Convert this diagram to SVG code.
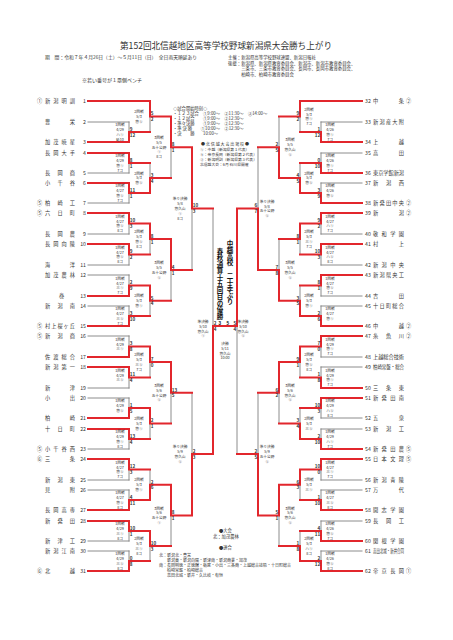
<svg xmlns="http://www.w3.org/2000/svg" width="453" height="640" viewBox="0 0 453 640">
<style>
.ln{fill:none;stroke-linecap:square}
.r{stroke:#e2262c;stroke-width:2}
.g{stroke:#7f7f7f;stroke-width:0.9}
text{font-family:'Noto Sans CJK JP','Noto Sans',sans-serif;fill:#333}
.tm{font-size:5.2px}
.b{font-size:3.7px;text-anchor:middle}
.s{font-family:'Liberation Sans',sans-serif;font-size:4.6px;font-weight:bold;fill:#111}
.e{text-anchor:end}
.v{font-size:6.5px;font-weight:bold;fill:#111;writing-mode:vertical-rl}
</style>
<rect width="453" height="640" fill="#fff"/>
<g id="header">
<text x="226" y="48.5" font-size="8.6" text-anchor="middle" fill="#222">第152回北信越地区高等学校野球新潟県大会勝ち上がり</text>
<text x="45" y="59" font-size="4.8">期　間：令和７年４月26日（土）～５月11日（日）　全日雨天順延あり</text>
<text x="228" y="59" font-size="4.4">主催：新潟県高等学校野球連盟、新潟日報社</text>
<text x="228" y="64.5" font-size="4.4">後援：新潟県、新潟県教育委員会、新潟市、新潟市教育委員会、</text>
<text x="228" y="70" font-size="4.4">　　　三条市、三条市教育委員会、長岡市、長岡市教育委員会、</text>
<text x="228" y="75.5" font-size="4.4">　　　柏崎市、柏崎市教育委員会</text>
<text x="82" y="82" font-size="5">※若い番号が１塁側ベンチ</text>
</g>
<g id="schedule">
<text x="173" y="110" font-size="4.3">◇試合開始時刻◇</text>
<text x="173" y="115" font-size="4.3">・１２３試合　①9:00～　②11:30～　③14:00～</text>
<text x="173" y="120" font-size="4.3">・１２試合　　①9:00～　②12:30～</text>
<text x="173" y="125" font-size="4.3">・準々決勝　　①9:00～　②12:30～</text>
<text x="173" y="130" font-size="4.3">・準 決 勝　　①10:00～　②12:30～</text>
<text x="173" y="135" font-size="4.3">・決　　勝　　10:00～</text>
</g>
<g id="notice">
<text x="225" y="146" font-size="4" text-anchor="middle">● 北 信 越 大 会 出 場 校 ●</text>
<text x="200" y="151" font-size="3.8">①：中越（新潟県第１代表）</text>
<text x="200" y="156" font-size="3.8">②：帝京長岡（新潟県第２代表）</text>
<text x="200" y="161" font-size="3.8">③：新潟明訓（新潟県第３代表）</text>
<text x="200" y="166" font-size="3.8">北信越大会：6月 石川県開催</text>
</g>
<g id="connectors">
<path class="ln g" d="M88 122H129M88 173H129M88 203H129M88 234H129M88 265H129M88 275H129M88 306H129M88 336H129M88 388H129M88 398H129M88 449H129M88 480H129M88 490H129M88 541H129M88 551H129M129 122V132M129 163V173M129 193V203M129 223.5V234M129 254.5V265M129 275V285.5M129 306V316M129 336V346.5M129 377.5V388M129 398V408M129 439V449M129 469.5V480M129 490V500M129 531V541M129 551V561M150 116.5V132M150 163V178M150 239V254.5M150 300.75V316M150 362V377.5M150 423.5V439M150 469.5V484.75M150 546V561M171 147.25V178M171 269.9V300.75M171 392.75V423.5M171 515.4V546M192 208.6V269.9M192 392.75V454M213 208.6V326"/>
<path class="ln g" d="M362 122H321M362 153H321M362 183H321M362 234H321M362 265H321M362 296H321M362 306H321M362 357H321M362 367H321M362 418H321M362 429H321M362 480H321M362 490H321M362 521H321M362 551H321M321 122V132M321 153V163M321 183V193M321 223.5V234M321 254.5V265M321 285.5V296M321 306V316M321 346.5V357M321 367V377.5M321 408V418M321 429V439M321 469.5V480M321 490V500M321 521V531M321 551V561M300 116.5V132M300 163V178M300 239V254.5M300 285.5V300.75M300 362V377.5M300 408V423.5M300 484.75V500M300 531V546M279 116.5V147.25M279 239V269.9M279 392.75V423.5M279 515.4V546M258 147.25V208.6M258 392.75V454M237 326V454"/>
<path class="ln r" d="M88 101H150M88 142H129M88 153H129M88 183H129M88 213H129M88 244H129M88 296H129M88 326H129M88 357H129M88 367H129M88 418H129M88 429H129M88 459H129M88 510H129M88 521H129M88 571H129M129 132V142M129 153V163M129 183V193M129 213V223.5M129 244V254.5M129 285.5V296M129 316V326M129 346.5V357M129 367V377.5M129 408V418M129 429V439M129 459V469.5M129 500V510M129 521V531M129 561V571M129 132H150M129 163H150M129 193H150M129 223.5H150M129 254.5H150M129 285.5H150M129 316H150M129 346.5H150M129 377.5H150M129 408H150M129 439H150M129 469.5H150M129 500H150M129 531H150M129 561H150M150 101V116.5M150 178V193M150 223.5V239M150 285.5V300.75M150 346.5V362M150 408V423.5M150 484.75V500M150 531V546M150 116.5H171M150 178H171M150 239H171M150 300.75H171M150 362H171M150 423.5H171M150 484.75H171M150 546H171M171 116.5V147.25M171 239V269.9M171 362V392.75M171 484.75V515.4M171 147.25H192M171 269.9H192M171 392.75H192M171 515.4H192M192 147.25V208.6M192 454V515.4M192 208.6H213M192 454H213M213 326V454M213 326H237"/>
<path class="ln r" d="M362 101H300M362 142H321M362 173H321M362 203H321M362 213H321M362 244H321M362 275H321M362 326H321M362 336H321M362 388H321M362 398H321M362 449H321M362 459H321M362 510H321M362 541H321M362 571H321M321 132V142M321 163V173M321 193V203M321 213V223.5M321 244V254.5M321 275V285.5M321 316V326M321 336V346.5M321 377.5V388M321 398V408M321 439V449M321 459V469.5M321 500V510M321 531V541M321 561V571M321 132H300M321 163H300M321 193H300M321 223.5H300M321 254.5H300M321 285.5H300M321 316H300M321 346.5H300M321 377.5H300M321 408H300M321 439H300M321 469.5H300M321 500H300M321 531H300M321 561H300M300 101V116.5M300 178V193M300 223.5V239M300 300.75V316M300 346.5V362M300 423.5V439M300 469.5V484.75M300 546V561M300 116.5H279M300 178H279M300 239H279M300 300.75H279M300 362H279M300 423.5H279M300 484.75H279M300 546H279M279 147.25V178M279 269.9V300.75M279 362V392.75M279 484.75V515.4M279 147.25H258M279 269.9H258M279 392.75H258M279 515.4H258M258 208.6V269.9M258 454V515.4M258 208.6H237M258 454H237M237 208.6V326"/>
</g>
<g id="teams-left" class="tm">
<g id="t1"><text x="37" y="103">①</text><text x="45" y="103" textLength="30" lengthAdjust="spacing">新潟明訓</text><text x="86" y="103" class="e">1</text></g>
<g id="t2"><text x="45" y="124" textLength="30" lengthAdjust="spacing">豊栄</text><text x="86" y="124" class="e">2</text></g>
<g id="t3"><text x="45" y="144" textLength="30" lengthAdjust="spacing">加茂暁星</text><text x="86" y="144" class="e">3</text></g>
<g id="t4"><text x="45" y="155" textLength="30" lengthAdjust="spacing">長岡大手</text><text x="86" y="155" class="e">4</text></g>
<g id="t5"><text x="45" y="175" textLength="30" lengthAdjust="spacing">長岡商</text><text x="86" y="175" class="e">5</text></g>
<g id="t6"><text x="45" y="185" textLength="30" lengthAdjust="spacing">小千谷</text><text x="86" y="185" class="e">6</text></g>
<g id="t7"><text x="37" y="205">⑤</text><text x="45" y="205" textLength="30" lengthAdjust="spacing">柏崎工</text><text x="86" y="205" class="e">7</text></g>
<g id="t8"><text x="37" y="215">⑤</text><text x="45" y="215" textLength="30" lengthAdjust="spacing">六日町</text><text x="86" y="215" class="e">8</text></g>
<g id="t9"><text x="45" y="236" textLength="30" lengthAdjust="spacing">長岡農</text><text x="86" y="236" class="e">9</text></g>
<g id="t10"><text x="45" y="246" textLength="30" lengthAdjust="spacing">長岡向陵</text><text x="86" y="246" class="e">10</text></g>
<g id="t11"><text x="45" y="267" textLength="30" lengthAdjust="spacing">海洋</text><text x="86" y="267" class="e">11</text></g>
<g id="t12"><text x="45" y="277" textLength="30" lengthAdjust="spacing">加茂農林</text><text x="86" y="277" class="e">12</text></g>
<g id="t13"><text x="59" y="298">巻</text><text x="86" y="298" class="e">13</text></g>
<g id="t14"><text x="45" y="308" textLength="30" lengthAdjust="spacing">新潟南</text><text x="86" y="308" class="e">14</text></g>
<g id="t15"><text x="37" y="328">⑤</text><text x="45" y="328" textLength="30" lengthAdjust="spacing">村上桜ヶ丘</text><text x="86" y="328" class="e">15</text></g>
<g id="t16"><text x="37" y="338">⑤</text><text x="45" y="338" textLength="30" lengthAdjust="spacing">新潟商</text><text x="86" y="338" class="e">16</text></g>
<g id="t17"><text x="45" y="359" textLength="30" lengthAdjust="spacing">佐渡総合</text><text x="86" y="359" class="e">17</text></g>
<g id="t18"><text x="45" y="369" textLength="30" lengthAdjust="spacing">新潟第一</text><text x="86" y="369" class="e">18</text></g>
<g id="t19"><text x="45" y="390" textLength="30" lengthAdjust="spacing">新津</text><text x="86" y="390" class="e">19</text></g>
<g id="t20"><text x="45" y="400" textLength="30" lengthAdjust="spacing">小出</text><text x="86" y="400" class="e">20</text></g>
<g id="t21"><text x="45" y="420" textLength="30" lengthAdjust="spacing">柏崎</text><text x="86" y="420" class="e">21</text></g>
<g id="t22"><text x="45" y="431" textLength="30" lengthAdjust="spacing">十日町</text><text x="86" y="431" class="e">22</text></g>
<g id="t23"><text x="37" y="451">⑤</text><text x="45" y="451" textLength="30" lengthAdjust="spacing">小千谷西</text><text x="86" y="451" class="e">23</text></g>
<g id="t24"><text x="37" y="461">⑥</text><text x="45" y="461" textLength="30" lengthAdjust="spacing">三条</text><text x="86" y="461" class="e">24</text></g>
<g id="t25"><text x="45" y="482" textLength="30" lengthAdjust="spacing">新潟東</text><text x="86" y="482" class="e">25</text></g>
<g id="t26"><text x="45" y="492" textLength="30" lengthAdjust="spacing">見附</text><text x="86" y="492" class="e">26</text></g>
<g id="t27"><text x="45" y="512" textLength="30" lengthAdjust="spacing">長岡高専</text><text x="86" y="512" class="e">27</text></g>
<g id="t28"><text x="45" y="523" textLength="30" lengthAdjust="spacing">新発田</text><text x="86" y="523" class="e">28</text></g>
<g id="t29"><text x="45" y="543" textLength="30" lengthAdjust="spacing">新津工</text><text x="86" y="543" class="e">29</text></g>
<g id="t30"><text x="45" y="553" textLength="30" lengthAdjust="spacing">新潟江南</text><text x="86" y="553" class="e">30</text></g>
<g id="t31"><text x="37" y="573">⑥</text><text x="45" y="573" textLength="30" lengthAdjust="spacing">北越</text><text x="86" y="573" class="e">31</text></g>
</g>
<g id="teams-right" class="tm">
<g id="t32"><text x="365" y="103">32</text><text x="373" y="103" textLength="31" lengthAdjust="spacing">中条</text><text x="406" y="103">②</text></g>
<g id="t33"><text x="365" y="124">33</text><text x="373" y="124" textLength="31" lengthAdjust="spacing">新潟産大附</text></g>
<g id="t34"><text x="365" y="144">34</text><text x="373" y="144" textLength="31" lengthAdjust="spacing">上越</text></g>
<g id="t35"><text x="365" y="155">35</text><text x="373" y="155" textLength="31" lengthAdjust="spacing">高田</text></g>
<g id="t36"><text x="365" y="175">36</text><text x="373" y="175" textLength="31" lengthAdjust="spacingAndGlyphs">東京学館新潟</text></g>
<g id="t37"><text x="365" y="185">37</text><text x="373" y="185" textLength="31" lengthAdjust="spacing">新潟西</text></g>
<g id="t38"><text x="365" y="205">38</text><text x="373" y="205" textLength="31" lengthAdjust="spacing">新発田中央</text><text x="406" y="205">②</text></g>
<g id="t39"><text x="365" y="215">39</text><text x="373" y="215" textLength="31" lengthAdjust="spacing">新潟</text><text x="406" y="215">②</text></g>
<g id="t40"><text x="365" y="236">40</text><text x="373" y="236" textLength="31" lengthAdjust="spacing">敬和学園</text></g>
<g id="t41"><text x="365" y="246">41</text><text x="373" y="246" textLength="31" lengthAdjust="spacing">村上</text></g>
<g id="t42"><text x="365" y="267">42</text><text x="373" y="267" textLength="31" lengthAdjust="spacing">新潟中央</text></g>
<g id="t43"><text x="365" y="277">43</text><text x="373" y="277" textLength="31" lengthAdjust="spacing">新潟県央工</text></g>
<g id="t44"><text x="365" y="298">44</text><text x="373" y="298" textLength="31" lengthAdjust="spacing">吉田</text></g>
<g id="t45"><text x="365" y="308">45</text><text x="373" y="308" textLength="31" lengthAdjust="spacing">十日町総合</text></g>
<g id="t46"><text x="365" y="328">46</text><text x="373" y="328" textLength="31" lengthAdjust="spacing">中越</text><text x="406" y="328">②</text></g>
<g id="t47"><text x="365" y="338">47</text><text x="373" y="338" textLength="31" lengthAdjust="spacing">糸魚川</text><text x="406" y="338">②</text></g>
<g id="t48"><text x="365" y="359">48</text><text x="373" y="359" textLength="31" lengthAdjust="spacingAndGlyphs">上越総合技術</text></g>
<g id="t49"><text x="365" y="369">49</text><text x="373" y="369" textLength="31" lengthAdjust="spacingAndGlyphs">柏崎常盤・総合</text></g>
<g id="t50"><text x="365" y="390">50</text><text x="373" y="390" textLength="31" lengthAdjust="spacing">三条東</text></g>
<g id="t51"><text x="365" y="400">51</text><text x="373" y="400" textLength="31" lengthAdjust="spacing">新発田南</text></g>
<g id="t52"><text x="365" y="420">52</text><text x="373" y="420" textLength="31" lengthAdjust="spacing">五泉</text></g>
<g id="t53"><text x="365" y="431">53</text><text x="373" y="431" textLength="31" lengthAdjust="spacing">新潟工</text></g>
<g id="t54"><text x="365" y="451">54</text><text x="373" y="451" textLength="31" lengthAdjust="spacing">新発田農</text><text x="406" y="451">⑤</text></g>
<g id="t55"><text x="365" y="461">55</text><text x="373" y="461" textLength="31" lengthAdjust="spacing">日本文理</text><text x="406" y="461">⑤</text></g>
<g id="t56"><text x="365" y="482">56</text><text x="373" y="482" textLength="31" lengthAdjust="spacing">新潟青陵</text></g>
<g id="t57"><text x="365" y="492">57</text><text x="373" y="492" textLength="31" lengthAdjust="spacing">万代</text></g>
<g id="t58"><text x="365" y="512">58</text><text x="373" y="512" textLength="31" lengthAdjust="spacing">開志学園</text></g>
<g id="t59"><text x="365" y="523">59</text><text x="373" y="523" textLength="31" lengthAdjust="spacing">長岡工</text></g>
<g id="t60"><text x="365" y="543">60</text><text x="373" y="543" textLength="31" lengthAdjust="spacing">関根学園</text></g>
<g id="t61"><text x="365" y="553">61</text><text x="373" y="553" textLength="31" lengthAdjust="spacingAndGlyphs">高田北城・新井合同</text></g>
<g id="t62"><text x="365" y="573">62</text><text x="373" y="573" textLength="31" lengthAdjust="spacing">帝京長岡</text><text x="406" y="573">①</text></g>
</g>
<g id="games-left" class="b">
<text x="120" y="126.2">1回戦<tspan x="120" dy="4.8">4/29</tspan><tspan x="120" dy="4.8">ハ①</tspan><tspan x="120" dy="4.8">延10</tspan></text>
<text x="120" y="157.2">1回戦<tspan x="120" dy="4.8">4/29</tspan><tspan x="120" dy="4.8">悠①</tspan><tspan x="120" dy="4.8">7コ</tspan></text>
<text x="120" y="187.2">1回戦<tspan x="120" dy="4.8">4/27</tspan><tspan x="120" dy="4.8">悠②</tspan><tspan x="120" dy="4.8">7コ</tspan></text>
<text x="120" y="217.7">1回戦<tspan x="120" dy="4.8">4/27</tspan><tspan x="120" dy="4.8">悠②</tspan><tspan x="120" dy="4.8">8コ</tspan></text>
<text x="120" y="248.7">1回戦<tspan x="120" dy="4.8">4/27</tspan><tspan x="120" dy="4.8">悠②</tspan><tspan x="120" dy="4.8">8コ</tspan></text>
<text x="120" y="279.7">1回戦<tspan x="120" dy="4.8">4/27</tspan><tspan x="120" dy="4.8">三①</tspan><tspan x="120" dy="4.8">7コ</tspan></text>
<text x="120" y="310.2">1回戦<tspan x="120" dy="4.8">4/27</tspan><tspan x="120" dy="4.8">三②</tspan><tspan x="120" dy="4.8">7コ</tspan></text>
<text x="120" y="340.7">1回戦<tspan x="120" dy="4.8">4/29</tspan><tspan x="120" dy="4.8">三①</tspan></text>
<text x="120" y="371.7">1回戦<tspan x="120" dy="4.8">4/29</tspan><tspan x="120" dy="4.8">三②</tspan></text>
<text x="120" y="402.2">1回戦<tspan x="120" dy="4.8">4/29</tspan><tspan x="120" dy="4.8">悠②</tspan></text>
<text x="120" y="433.2">1回戦<tspan x="120" dy="4.8">4/29</tspan><tspan x="120" dy="4.8">悠①</tspan><tspan x="120" dy="4.8">8コ</tspan></text>
<text x="120" y="463.7">1回戦<tspan x="120" dy="4.8">4/27</tspan><tspan x="120" dy="4.8">悠②</tspan><tspan x="120" dy="4.8">7コ</tspan></text>
<text x="120" y="494.2">1回戦<tspan x="120" dy="4.8">4/27</tspan><tspan x="120" dy="4.8">悠②</tspan><tspan x="120" dy="4.8">8コ</tspan></text>
<text x="120" y="525.2">1回戦<tspan x="120" dy="4.8">4/29</tspan><tspan x="120" dy="4.8">三①</tspan><tspan x="120" dy="4.8">8コ</tspan></text>
<text x="120" y="555.2">1回戦<tspan x="120" dy="4.8">4/29</tspan><tspan x="120" dy="4.8">三②</tspan><tspan x="120" dy="4.8">8コ</tspan></text>
<text x="139" y="113.1">2回戦<tspan x="139" dy="4.8">5/3</tspan><tspan x="139" dy="4.8">悠②</tspan></text>
<text x="139" y="174.6">2回戦<tspan x="139" dy="4.8">5/3</tspan><tspan x="139" dy="4.8">悠②</tspan></text>
<text x="139" y="233.2">2回戦<tspan x="139" dy="4.8">5/3</tspan><tspan x="139" dy="4.8">悠②</tspan><tspan x="139" dy="4.8">8コ</tspan></text>
<text x="139" y="297.4">2回戦<tspan x="139" dy="4.8">5/3</tspan><tspan x="139" dy="4.8">悠①</tspan></text>
<text x="139" y="356.2">2回戦<tspan x="139" dy="4.8">5/3</tspan><tspan x="139" dy="4.8">三②</tspan><tspan x="139" dy="4.8">7コ</tspan></text>
<text x="139" y="420.1">2回戦<tspan x="139" dy="4.8">5/3</tspan><tspan x="139" dy="4.8">悠①</tspan></text>
<text x="139" y="481.4">2回戦<tspan x="139" dy="4.8">5/3</tspan><tspan x="139" dy="4.8">悠①</tspan></text>
<text x="139" y="540.2">2回戦<tspan x="139" dy="4.8">5/3</tspan><tspan x="139" dy="4.8">三①</tspan><tspan x="139" dy="4.8">8コ</tspan></text>
<text x="159" y="139">3回戦<tspan x="159" dy="4.8">5/5</tspan><tspan x="159" dy="4.8">五十公野</tspan><tspan x="159" dy="4.8">①</tspan><tspan x="159" dy="4.8">8コ</tspan></text>
<text x="159" y="264.1">3回戦<tspan x="159" dy="4.8">5/5</tspan><tspan x="159" dy="4.8">五十公野</tspan><tspan x="159" dy="4.8">②</tspan></text>
<text x="159" y="386.9">3回戦<tspan x="159" dy="4.8">5/6</tspan><tspan x="159" dy="4.8">五十公野</tspan><tspan x="159" dy="4.8">②</tspan></text>
<text x="159" y="509.6">3回戦<tspan x="159" dy="4.8">5/6</tspan><tspan x="159" dy="4.8">五十公野</tspan><tspan x="159" dy="4.8">①</tspan></text>
<text x="180" y="200.4">準々決勝<tspan x="180" dy="4.8">5/8</tspan><tspan x="180" dy="4.8">悠久山</tspan><tspan x="180" dy="4.8">①</tspan><tspan x="180" dy="4.8">8コ</tspan></text>
<text x="180" y="448.2">準々決勝<tspan x="180" dy="4.8">5/9</tspan><tspan x="180" dy="4.8">悠久山</tspan><tspan x="180" dy="4.8">②</tspan></text>
<text x="203" y="323">準決勝<tspan x="203" dy="4.8">5/10</tspan><tspan x="203" dy="4.8">悠久山</tspan><tspan x="203" dy="4.8">①</tspan></text>
</g>
<g id="games-right" class="b">
<text x="330" y="126.2">1回戦<tspan x="330" dy="4.8">4/26</tspan><tspan x="330" dy="4.8">悠①</tspan><tspan x="330" dy="4.8">7コ</tspan></text>
<text x="330" y="157.2">1回戦<tspan x="330" dy="4.8">4/26</tspan><tspan x="330" dy="4.8">悠①</tspan><tspan x="330" dy="4.8">7コ</tspan></text>
<text x="330" y="187.2">1回戦<tspan x="330" dy="4.8">4/26</tspan><tspan x="330" dy="4.8">悠②</tspan></text>
<text x="330" y="217.7">1回戦<tspan x="330" dy="4.8">4/27</tspan><tspan x="330" dy="4.8">ハ①</tspan><tspan x="330" dy="4.8">7コ</tspan></text>
<text x="330" y="248.7">1回戦<tspan x="330" dy="4.8">4/27</tspan><tspan x="330" dy="4.8">ハ②</tspan><tspan x="330" dy="4.8">8コ</tspan></text>
<text x="330" y="279.7">1回戦<tspan x="330" dy="4.8">4/27</tspan><tspan x="330" dy="4.8">悠②</tspan><tspan x="330" dy="4.8">7コ</tspan></text>
<text x="330" y="310.2">1回戦<tspan x="330" dy="4.8">4/27</tspan><tspan x="330" dy="4.8">悠①</tspan></text>
<text x="330" y="340.7">1回戦<tspan x="330" dy="4.8">4/29</tspan><tspan x="330" dy="4.8">悠①</tspan><tspan x="330" dy="4.8">7コ</tspan></text>
<text x="330" y="371.7">1回戦<tspan x="330" dy="4.8">4/29</tspan><tspan x="330" dy="4.8">悠①</tspan><tspan x="330" dy="4.8">7コ</tspan></text>
<text x="330" y="402.2">1回戦<tspan x="330" dy="4.8">4/29</tspan><tspan x="330" dy="4.8">ハ②</tspan><tspan x="330" dy="4.8">8コ</tspan></text>
<text x="330" y="433.2">1回戦<tspan x="330" dy="4.8">4/29</tspan><tspan x="330" dy="4.8">ハ①</tspan><tspan x="330" dy="4.8">7コ</tspan></text>
<text x="330" y="463.7">1回戦<tspan x="330" dy="4.8">4/27</tspan><tspan x="330" dy="4.8">三①</tspan><tspan x="330" dy="4.8">7コ</tspan></text>
<text x="330" y="494.2">1回戦<tspan x="330" dy="4.8">4/27</tspan><tspan x="330" dy="4.8">三②</tspan><tspan x="330" dy="4.8">8コ</tspan></text>
<text x="330" y="525.2">1回戦<tspan x="330" dy="4.8">4/26</tspan><tspan x="330" dy="4.8">悠②</tspan><tspan x="330" dy="4.8">7コ</tspan></text>
<text x="330" y="555.2">1回戦<tspan x="330" dy="4.8">4/26</tspan><tspan x="330" dy="4.8">悠②</tspan><tspan x="330" dy="4.8">8コ</tspan></text>
<text x="309" y="110.7">2回戦<tspan x="309" dy="4.8">5/3</tspan><tspan x="309" dy="4.8">悠①</tspan><tspan x="309" dy="4.8">7コ</tspan></text>
<text x="309" y="174.6">2回戦<tspan x="309" dy="4.8">5/3</tspan><tspan x="309" dy="4.8">悠②</tspan></text>
<text x="309" y="233.2">2回戦<tspan x="309" dy="4.8">5/3</tspan><tspan x="309" dy="4.8">三①</tspan><tspan x="309" dy="4.8">7コ</tspan></text>
<text x="309" y="297.4">2回戦<tspan x="309" dy="4.8">5/3</tspan><tspan x="309" dy="4.8">悠①</tspan></text>
<text x="309" y="356.2">2回戦<tspan x="309" dy="4.8">5/3</tspan><tspan x="309" dy="4.8">悠②</tspan><tspan x="309" dy="4.8">8コ</tspan></text>
<text x="309" y="420.1">2回戦<tspan x="309" dy="4.8">5/3</tspan><tspan x="309" dy="4.8">三②</tspan></text>
<text x="309" y="481.4">2回戦<tspan x="309" dy="4.8">5/3</tspan><tspan x="309" dy="4.8">三①</tspan></text>
<text x="309" y="540.2">2回戦<tspan x="309" dy="4.8">5/3</tspan><tspan x="309" dy="4.8">ハ①</tspan><tspan x="309" dy="4.8">8コ</tspan></text>
<text x="290" y="141.4">3回戦<tspan x="290" dy="4.8">5/5</tspan><tspan x="290" dy="4.8">悠久山</tspan><tspan x="290" dy="4.8">②</tspan></text>
<text x="290" y="264.1">3回戦<tspan x="290" dy="4.8">5/5</tspan><tspan x="290" dy="4.8">悠久山</tspan><tspan x="290" dy="4.8">②</tspan></text>
<text x="290" y="386.9">3回戦<tspan x="290" dy="4.8">5/6</tspan><tspan x="290" dy="4.8">悠久山</tspan><tspan x="290" dy="4.8">②</tspan></text>
<text x="290" y="509.6">3回戦<tspan x="290" dy="4.8">5/6</tspan><tspan x="290" dy="4.8">悠久山</tspan><tspan x="290" dy="4.8">②</tspan></text>
<text x="267" y="202.8">準々決勝<tspan x="267" dy="4.8">5/8</tspan><tspan x="267" dy="4.8">五十公野</tspan><tspan x="267" dy="4.8">②</tspan></text>
<text x="267" y="448.2">準々決勝<tspan x="267" dy="4.8">5/9</tspan><tspan x="267" dy="4.8">五十公野</tspan><tspan x="267" dy="4.8">②</tspan></text>
<text x="243" y="323">準決勝<tspan x="243" dy="4.8">5/10</tspan><tspan x="243" dy="4.8">悠久山</tspan><tspan x="243" dy="4.8">②</tspan></text>
</g>
<g id="final" class="b">
<text x="225" y="345">決勝<tspan x="225" dy="4.8">5/11</tspan><tspan x="225" dy="4.8">悠久山</tspan><tspan x="225" dy="4.8">10:00</tspan></text>
</g>
<g id="champion">
<text x="230" y="240" class="v">中越高校　二十季ぶり</text>
<text x="220" y="248" class="v">春秋通算十五回目の優勝</text>
</g>
<g id="scores-left" class="s">
<text x="129.8" y="130.8">9</text><text x="129.8" y="136.6">12</text>
<text x="129.8" y="161.8">8</text><text x="129.8" y="167.6">1</text>
<text x="129.8" y="191.8">11</text><text x="129.8" y="197.6">1</text>
<text x="129.8" y="222.3">10</text><text x="129.8" y="228.1">3</text>
<text x="129.8" y="253.3">9</text><text x="129.8" y="259.1">2</text>
<text x="129.8" y="284.3">2</text><text x="129.8" y="290.1">9</text>
<text x="129.8" y="314.8">3</text><text x="129.8" y="320.6">10</text>
<text x="129.8" y="345.3">3</text><text x="129.8" y="351.1">8</text>
<text x="129.8" y="376.3">11</text><text x="129.8" y="382.1">4</text>
<text x="129.8" y="406.8">1</text><text x="129.8" y="412.6">5</text>
<text x="129.8" y="437.8">13</text><text x="129.8" y="443.6">4</text>
<text x="129.8" y="468.3">12</text><text x="129.8" y="474.1">3</text>
<text x="129.8" y="498.8">4</text><text x="129.8" y="504.6">11</text>
<text x="129.8" y="529.8">10</text><text x="129.8" y="535.6">1</text>
<text x="129.8" y="559.8">0</text><text x="129.8" y="565.6">8</text>
<text x="150.8" y="115.3">5</text><text x="150.8" y="121.1">2</text>
<text x="150.8" y="176.8">3</text><text x="150.8" y="182.6">4</text>
<text x="150.8" y="237.8">8</text><text x="150.8" y="243.6">1</text>
<text x="150.8" y="299.6">5</text><text x="150.8" y="305.4">4</text>
<text x="150.8" y="360.8">7</text><text x="150.8" y="366.6">0</text>
<text x="150.8" y="422.3">2</text><text x="150.8" y="428.1">1</text>
<text x="150.8" y="483.6">2</text><text x="150.8" y="489.4">6</text>
<text x="150.8" y="544.8">10</text><text x="150.8" y="550.6">3</text>
<text x="171.8" y="146.1">8</text><text x="171.8" y="151.9">1</text>
<text x="171.8" y="268.7">4</text><text x="171.8" y="274.5">1</text>
<text x="171.8" y="391.6">13</text><text x="171.8" y="397.4">5</text>
<text x="171.8" y="514.2">8</text><text x="171.8" y="520">1</text>
<text x="192.8" y="207.4">10</text><text x="192.8" y="213.2">3</text>
<text x="192.8" y="452.8">2</text><text x="192.8" y="458.6">3</text>
<text x="213.8" y="324.8">2</text><text x="213.8" y="330.6">4</text>
</g>
<g id="scores-right" class="s e">
<text x="320.2" y="130.8">1</text><text x="320.2" y="136.6">12</text>
<text x="320.2" y="161.8">0</text><text x="320.2" y="167.6">10</text>
<text x="320.2" y="191.8">3</text><text x="320.2" y="197.6">9</text>
<text x="320.2" y="222.3">9</text><text x="320.2" y="228.1">2</text>
<text x="320.2" y="253.3">10</text><text x="320.2" y="259.1">3</text>
<text x="320.2" y="284.3">8</text><text x="320.2" y="290.1">1</text>
<text x="320.2" y="314.8">2</text><text x="320.2" y="320.6">6</text>
<text x="320.2" y="345.3">7</text><text x="320.2" y="351.1">0</text>
<text x="320.2" y="376.3">1</text><text x="320.2" y="382.1">8</text>
<text x="320.2" y="406.8">10</text><text x="320.2" y="412.6">3</text>
<text x="320.2" y="437.8">2</text><text x="320.2" y="443.6">10</text>
<text x="320.2" y="468.3">10</text><text x="320.2" y="474.1">0</text>
<text x="320.2" y="498.8">1</text><text x="320.2" y="504.6">10</text>
<text x="320.2" y="529.8">4</text><text x="320.2" y="535.6">11</text>
<text x="320.2" y="559.8">2</text><text x="320.2" y="565.6">12</text>
<text x="299.2" y="115.3">9</text><text x="299.2" y="121.1">2</text>
<text x="299.2" y="176.8">4</text><text x="299.2" y="182.6">5</text>
<text x="299.2" y="237.8">8</text><text x="299.2" y="243.6">1</text>
<text x="299.2" y="299.6">3</text><text x="299.2" y="305.4">5</text>
<text x="299.2" y="360.8">9</text><text x="299.2" y="366.6">1</text>
<text x="299.2" y="422.3">3</text><text x="299.2" y="428.1">4</text>
<text x="299.2" y="483.6">6</text><text x="299.2" y="489.4">3</text>
<text x="299.2" y="544.8">1</text><text x="299.2" y="550.6">8</text>
<text x="278.2" y="146.1">2</text><text x="278.2" y="151.9">5</text>
<text x="278.2" y="268.7">7</text><text x="278.2" y="274.5">8</text>
<text x="278.2" y="391.6">6</text><text x="278.2" y="397.4">2</text>
<text x="278.2" y="514.2">5</text><text x="278.2" y="520">1</text>
<text x="257.2" y="207.4">6</text><text x="257.2" y="213.2">7</text>
<text x="257.2" y="452.8">2</text><text x="257.2" y="458.6">5</text>
<text x="236.2" y="324.8">5</text><text x="236.2" y="330.6">4</text>
<text x="221" y="324.5" class="s">3</text><text x="229" y="324.5" class="s">5</text>
</g>
<g id="footnote">
<text x="219" y="532" font-size="4.3">●大会</text>
<text x="213" y="538" font-size="4.3">北：加茂農林</text>
<text x="219" y="549" font-size="4.3">●連合</text>
<text x="159" y="557" font-size="4">北：新潟北・豊栄</text>
<text x="159" y="562" font-size="4">　　新潟東・新潟向陽・新津南・新潟商業・加茂</text>
<text x="159" y="567" font-size="4">南：長岡明徳・正徳館・栃尾・小出・三条商・上越総合技術・十日町総合</text>
<text x="159" y="572" font-size="4">　　柏崎常盤・柏崎総合</text>
<text x="159" y="577" font-size="4">　　高田北城・新井・久比岐・有恒</text>
</g>
</svg>
